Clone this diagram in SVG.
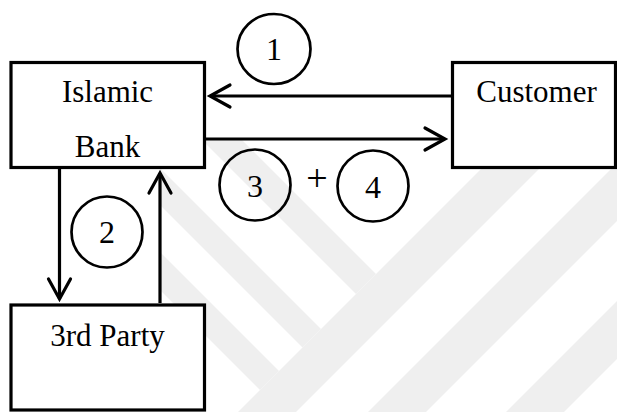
<svg xmlns="http://www.w3.org/2000/svg" width="617" height="412" viewBox="0 0 617 412">
  <style>
    .box { fill: #ffffff; stroke: #000000; stroke-width: 3.2; }
    .label { font-family: "Liberation Serif", "Times New Roman", serif; font-size: 31px; fill: #000000; text-anchor: middle; }
    .num { font-family: "Liberation Serif", "Times New Roman", serif; font-size: 32px; fill: #000000; text-anchor: middle; }
    .ring { fill: none; stroke: #000000; stroke-width: 2.7; }
    .conn { fill: none; stroke: #000000; stroke-width: 3.2; }
    .wm { fill: #efefef; stroke: none; }
  </style>
  <defs>
    <marker id="head" markerUnits="userSpaceOnUse" markerWidth="30" markerHeight="30" refX="0" refY="0" orient="auto" overflow="visible">
      <path d="M-20,-11 L0,0 L-20,11" fill="none" stroke="#000000" stroke-width="3.2" stroke-linecap="round" stroke-linejoin="miter"/>
    </marker>
    <clipPath id="wmclip">
      <rect x="160" y="140" width="457" height="272"/>
    </clipPath>
  </defs>

  <rect width="617" height="412" fill="#ffffff"/>

  <g id="watermark" clip-path="url(#wmclip)">
    <polygon class="wm" points="201,139 241,139 376,274 356,294"/>
    <polygon class="wm" points="160,168 160,205 302.5,347.5 321,329"/>
    <polygon class="wm" points="160,252 160,290 260,390 279,371"/>
    <polygon class="wm" points="238,412 296,412 617,91 617,33 510,140"/>
    <polygon class="wm" points="368,412 426,412 617,221 617,163"/>
    <polygon class="wm" points="506,412 564,412 617,359 617,301"/>
  </g>

  <g id="connectors">
    <line class="conn" x1="452" y1="96" x2="210" y2="96" marker-end="url(#head)"/>
    <line class="conn" x1="205" y1="139" x2="445" y2="139" marker-end="url(#head)"/>
    <line class="conn" x1="59.5" y1="168" x2="59.5" y2="299" marker-end="url(#head)"/>
    <line class="conn" x1="160" y1="303" x2="160" y2="173" marker-end="url(#head)"/>
  </g>

  <g id="islamic-bank">
    <rect class="box" x="11" y="62.5" width="193.5" height="105"/>
    <text class="label" x="107.5" y="102">Islamic</text>
    <text class="label" x="107.5" y="157">Bank</text>
  </g>

  <g id="customer">
    <rect class="box" x="452.5" y="62.5" width="163" height="105"/>
    <text class="label" x="536.5" y="102">Customer</text>
  </g>

  <g id="third-party">
    <rect class="box" x="11" y="305" width="193.5" height="105"/>
    <text class="label" x="107.5" y="346">3rd Party</text>
  </g>

  <g id="step-1">
    <ellipse class="ring" cx="274" cy="49" rx="36.5" ry="35"/>
    <text class="num" x="274" y="60">1</text>
  </g>

  <g id="step-2">
    <circle class="ring" cx="107" cy="232" r="35.5"/>
    <text class="num" x="107" y="243">2</text>
  </g>

  <g id="step-3">
    <circle class="ring" cx="255" cy="185" r="35.5"/>
    <text class="num" x="255" y="197">3</text>
  </g>

  <g id="plus">
    <text class="num" x="317" y="191" style="font-size:38px">+</text>
  </g>

  <g id="step-4">
    <circle class="ring" cx="373" cy="186" r="35.5"/>
    <text class="num" x="373" y="198">4</text>
  </g>
</svg>
